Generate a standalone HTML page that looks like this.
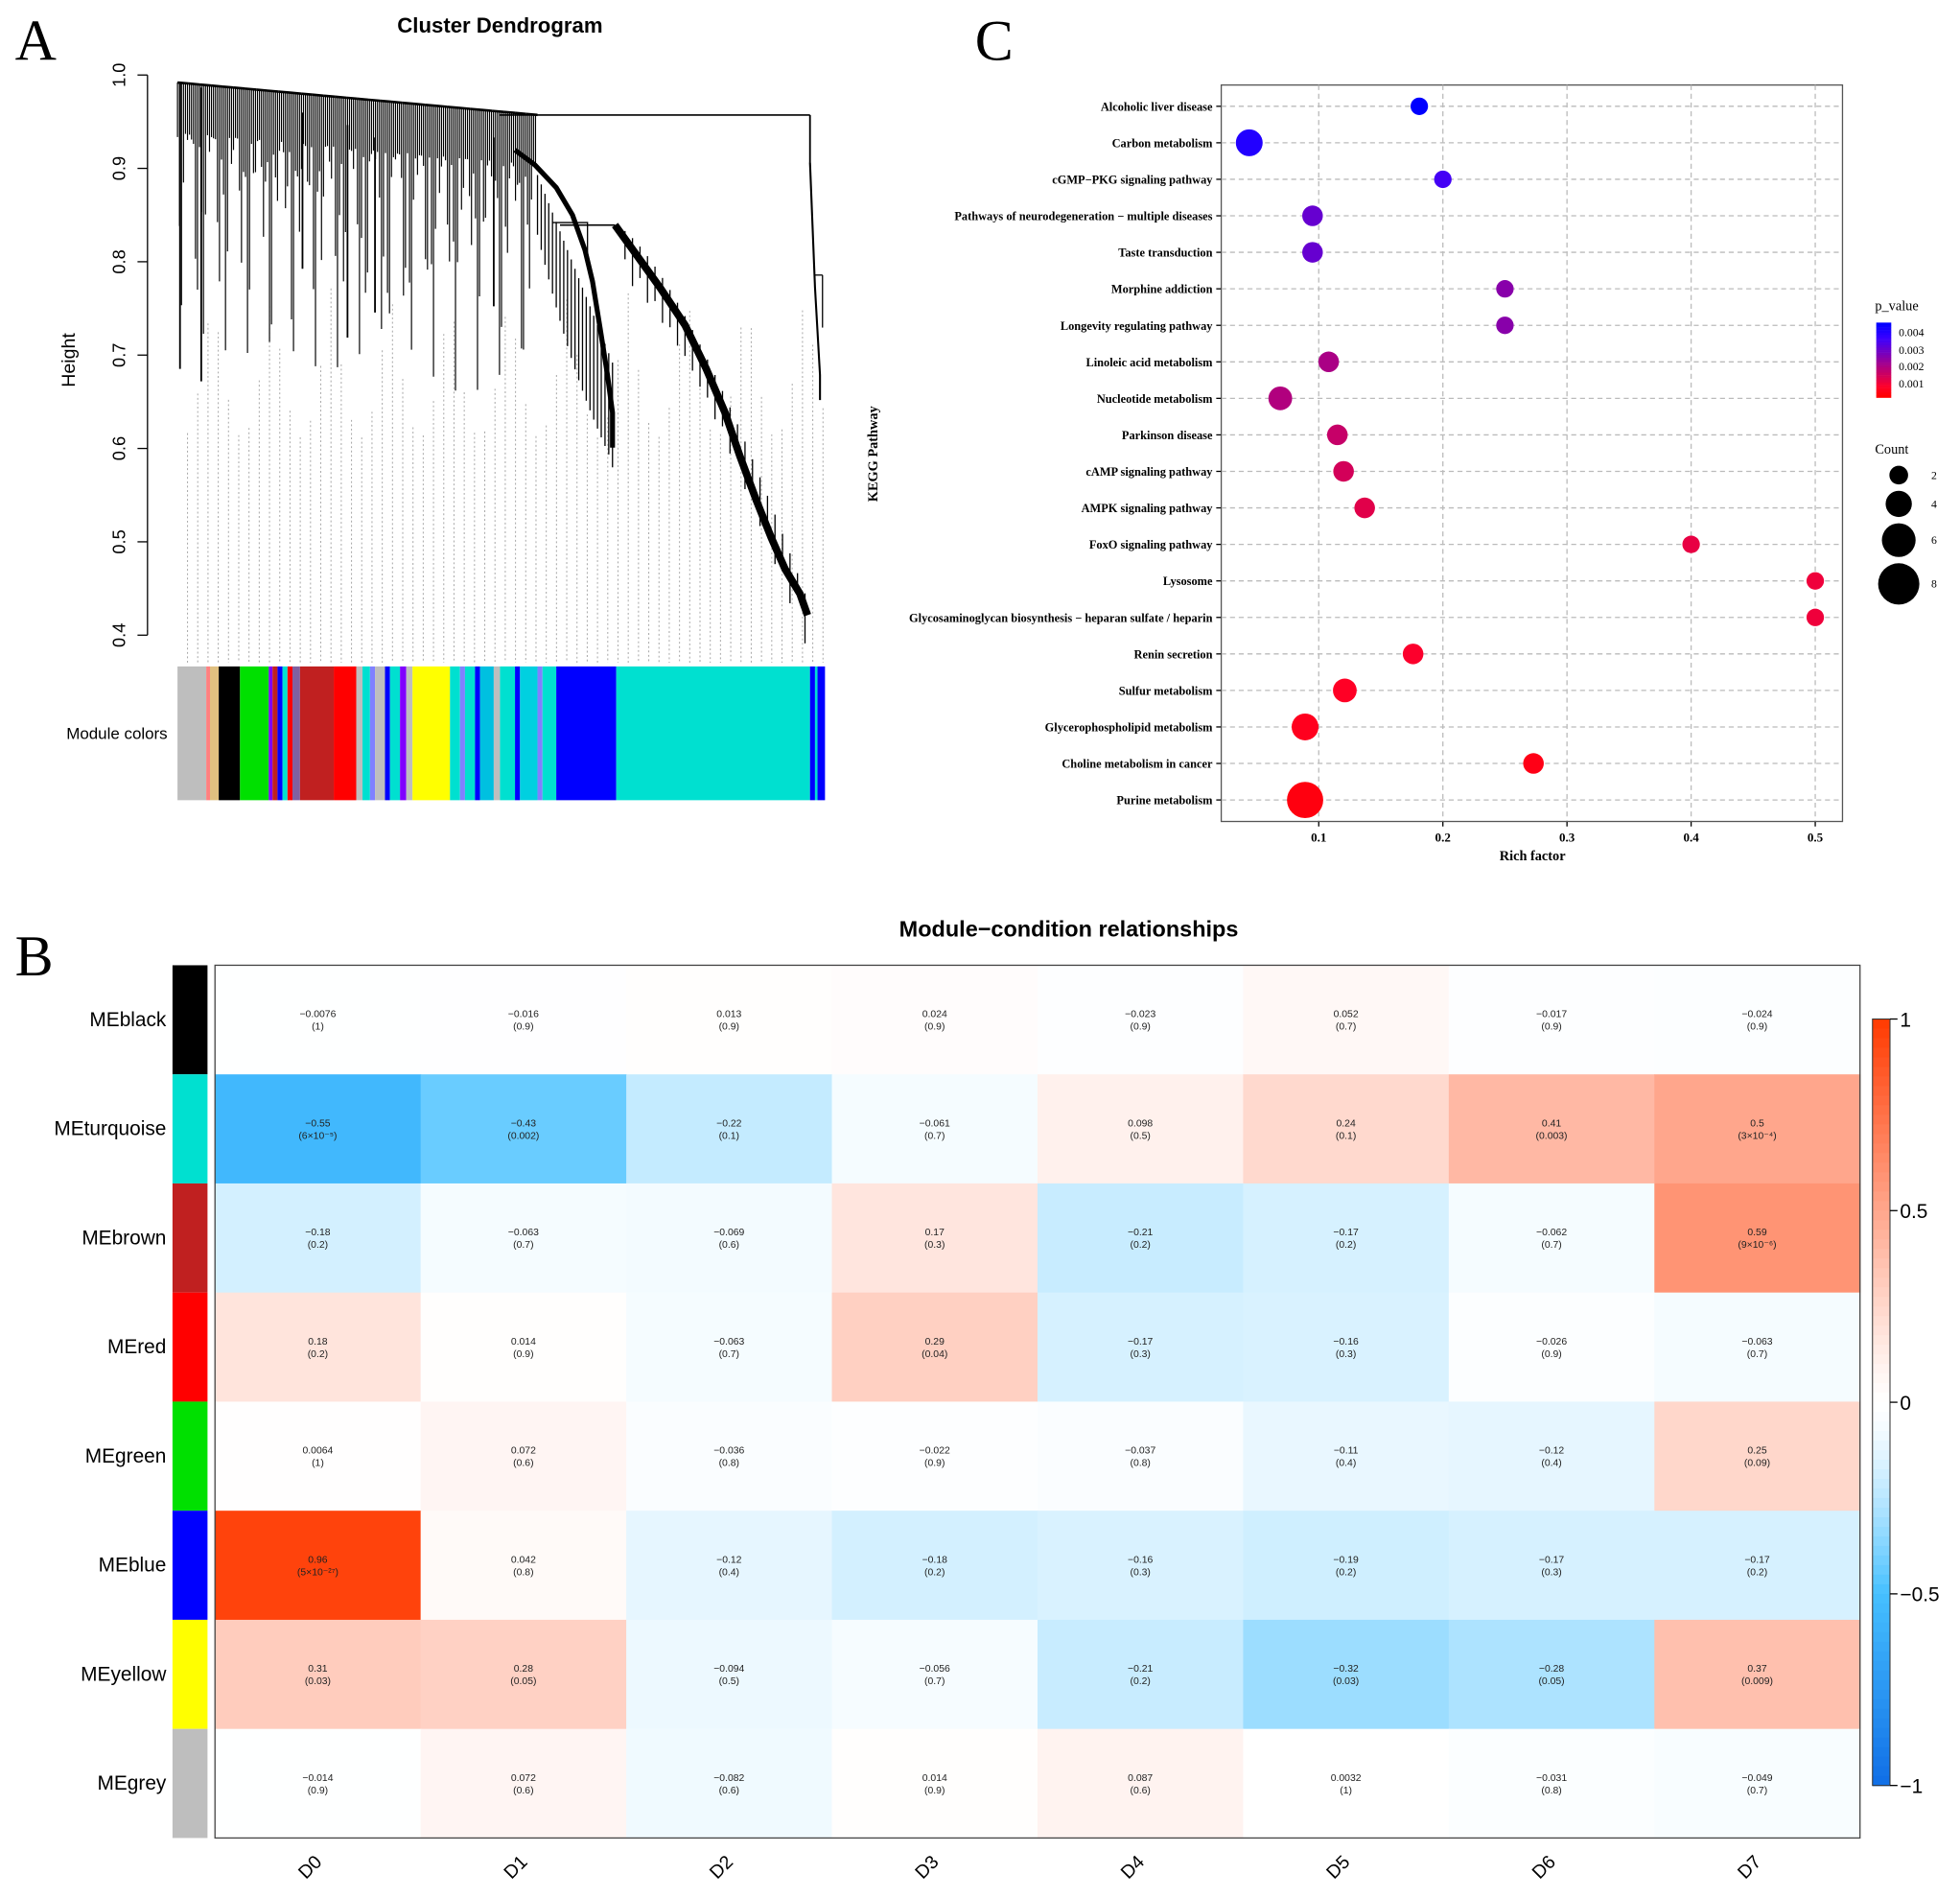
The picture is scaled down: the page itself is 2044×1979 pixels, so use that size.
<!DOCTYPE html>
<html><head><meta charset="utf-8"><style>
html,body{margin:0;padding:0;background:#fff;}
svg{display:block;}
text{font-family:"Liberation Sans",sans-serif;}
.serif{font-family:"Liberation Serif",serif;}
</style></head><body>
<svg id="fig" xmlns="http://www.w3.org/2000/svg" width="2044" height="1979" viewBox="0 0 1568 1518" preserveAspectRatio="none">
<rect width="1568" height="1518" fill="#fff"/>
<text class="serif" x="12" y="48" font-size="46">A</text>
<text class="serif" x="780" y="48" font-size="46">C</text>
<text class="serif" x="12" y="780" font-size="46">B</text>
<g id="dendro"></g>
<g id="kegg"></g>
<g id="heat"></g>
</svg>
<script>
const NS="http://www.w3.org/2000/svg";
function mk(parent,tag,attrs,txt){const e=document.createElementNS(NS,tag);for(const k in attrs)e.setAttribute(k,attrs[k]);if(txt!==undefined)e.textContent=txt;parent.appendChild(e);return e;}

/* ---------- Panel C data ---------- */
const pathways=["Alcoholic liver disease","Carbon metabolism","cGMP−PKG signaling pathway","Pathways of neurodegeneration − multiple diseases","Taste transduction","Morphine addiction","Longevity regulating pathway","Linoleic acid metabolism","Nucleotide metabolism","Parkinson disease","cAMP signaling pathway","AMPK signaling pathway","FoxO signaling pathway","Lysosome","Glycosaminoglycan biosynthesis − heparan sulfate / heparin","Renin secretion","Sulfur metabolism","Glycerophospholipid metabolism","Choline metabolism in cancer","Purine metabolism"];
const richFactor=[0.181,0.044,0.2,0.095,0.095,0.25,0.25,0.108,0.069,0.115,0.12,0.137,0.4,0.5,0.5,0.176,0.121,0.089,0.273,0.089];
const counts=[2,5,2,3,3,2,2,3,4,3,3,3,2,2,2,3,4,5,3,8];
const pValues=[0.0046,0.0041,0.0036,0.0031,0.0031,0.0026,0.0026,0.0021,0.002,0.0017,0.0015,0.0013,0.0012,0.0011,0.0011,0.0009,0.0008,0.0007,0.0006,0.0005];
const xTicks=[0.1,0.2,0.3,0.4,0.5];

/* ---------- Panel B data ---------- */
const modules=["MEblack","MEturquoise","MEbrown","MEred","MEgreen","MEblue","MEyellow","MEgrey"];
const moduleColors=["#000000","#00E0D0","#C02020","#FF0000","#00E000","#0000FF","#FFFF00","#BEBEBE"];
const conditions=["D0","D1","D2","D3","D4","D5","D6","D7"];
const corr=[
[-0.0076,-0.016,0.013,0.024,-0.023,0.052,-0.017,-0.024],
[-0.55,-0.43,-0.22,-0.061,0.098,0.24,0.41,0.5],
[-0.18,-0.063,-0.069,0.17,-0.21,-0.17,-0.062,0.59],
[0.18,0.014,-0.063,0.29,-0.17,-0.16,-0.026,-0.063],
[0.0064,0.072,-0.036,-0.022,-0.037,-0.11,-0.12,0.25],
[0.96,0.042,-0.12,-0.18,-0.16,-0.19,-0.17,-0.17],
[0.31,0.28,-0.094,-0.056,-0.21,-0.32,-0.28,0.37],
[-0.014,0.072,-0.082,0.014,0.087,0.0032,-0.031,-0.049]];
const pLabels=[
["(1)","(0.9)","(0.9)","(0.9)","(0.9)","(0.7)","(0.9)","(0.9)"],
["(6×10⁻⁵)","(0.002)","(0.1)","(0.7)","(0.5)","(0.1)","(0.003)","(3×10⁻⁴)"],
["(0.2)","(0.7)","(0.6)","(0.3)","(0.2)","(0.2)","(0.7)","(9×10⁻⁶)"],
["(0.2)","(0.9)","(0.7)","(0.04)","(0.3)","(0.3)","(0.9)","(0.7)"],
["(1)","(0.6)","(0.8)","(0.9)","(0.8)","(0.4)","(0.4)","(0.09)"],
["(5×10⁻²⁷)","(0.8)","(0.4)","(0.2)","(0.3)","(0.2)","(0.3)","(0.2)"],
["(0.03)","(0.05)","(0.5)","(0.7)","(0.2)","(0.03)","(0.05)","(0.009)"],
["(0.9)","(0.6)","(0.6)","(0.9)","(0.6)","(1)","(0.8)","(0.7)"]];
const cbTicks=[1,0.5,0,-0.5,-1];

/* ---------- Panel A ---------- */
const D=document.getElementById('dendro');
let t=mk(D,'text',{x:400,y:26,'font-size':17,'font-weight':'bold','text-anchor':'middle'},'Cluster Dendrogram');

const hY=h=>60+(1-h)*(448/0.6);
mk(D,'line',{x1:118,y1:hY(1),x2:118,y2:hY(0.4),stroke:'#000'});
[1.0,0.9,0.8,0.7,0.6,0.5,0.4].forEach(h=>{
 mk(D,'line',{x1:110,y1:hY(h),x2:118,y2:hY(h),stroke:'#000'});
 const l=mk(D,'text',{x:100,y:hY(h),'font-size':14,'text-anchor':'middle',transform:`rotate(-90 100 ${hY(h)})`},h.toFixed(1));
 
});
t=mk(D,'text',{x:60,y:288,'font-size':15,'text-anchor':'middle',transform:'rotate(-90 60 288)'},'Height');

// dashed leaf guides
for(let x=150;x<660;x+=8.2){mk(D,'line',{x1:x,y1:230+Math.abs(Math.sin(x*0.7))*120,x2:x,y2:530,stroke:'#aaa','stroke-width':0.8,'stroke-dasharray':'1.5,2'});}
// dense left cluster branches
for(let x=142;x<430;x+=1.6){
 const s=Math.abs(Math.sin(x*0.53)*Math.cos(x*0.17+1));
 const top=66+(x-142)*0.09;
 const e=top+40+190*s*s;
 mk(D,'line',{x1:x,y1:top,x2:x,y2:e,stroke:'#000','stroke-width':0.9});
}
for(let x=142;x<430;x+=9){mk(D,'line',{x1:x,y1:66+(x-142)*0.09,x2:x+9,y2:66+(x-142+9)*0.09,stroke:'#000','stroke-width':2});}
// long outliers
[[144,66,144,295],[161,70,161,305],[242,90,242,215],[278,100,278,270],[300,110,300,250],[395,110,395,245]].forEach(s=>mk(D,'line',{x1:s[0],y1:s[1],x2:s[2],y2:s[3],stroke:'#000','stroke-width':1.4}));
// top join lines
mk(D,'line',{x1:400,y1:92,x2:648,y2:92,stroke:'#000','stroke-width':1.2});
mk(D,'line',{x1:648,y1:92,x2:648,y2:130,stroke:'#000','stroke-width':1.4});
mk(D,'polyline',{points:'648,130 650,180 652,230 654,265 656,300 656,320',fill:'none',stroke:'#000','stroke-width':1.6});
mk(D,'line',{x1:652,y1:220,x2:658,y2:220,stroke:'#000','stroke-width':1});
mk(D,'line',{x1:658,y1:220,x2:658,y2:262,stroke:'#000','stroke-width':1});
// curve 1 cluster
mk(D,'polyline',{points:'412,120 428,132 445,150 458,172 468,200 474,225 480,262 486,300 490,330 490,358',fill:'none',stroke:'#000','stroke-width':4});
for(let x=430;x<492;x+=3){mk(D,'line',{x1:x,y1:140+(x-430)*2.5,x2:x,y2:180+(x-430)*3.2+20*Math.abs(Math.sin(x)),stroke:'#000','stroke-width':1});}
mk(D,'polyline',{points:'442,178 470,178 470,205',fill:'none',stroke:'#000','stroke-width':1});
// curve 2 cluster
mk(D,'polyline',{points:'448,180 492,180',fill:'none',stroke:'#000','stroke-width':1.2});
mk(D,'polyline',{points:'492,180 510,205 528,230 548,260 565,295 580,330 592,365 605,400 617,430 628,455 640,475 646,492',fill:'none',stroke:'#000','stroke-width':6});
for(let x=500;x<648;x+=6){const yy=180+Math.pow((x-492)/154,1.4)*300;mk(D,'line',{x1:x,y1:yy,x2:x,y2:yy+15+25*Math.abs(Math.sin(x*1.3)),stroke:'#000','stroke-width':1});}
// module color bar
const segs=[[142,165,'#BEBEBE'],[165,168,'#FF8080'],[168,175,'#E0C080'],[175,192,'#000'],[192,215,'#00E000'],[215,218,'#8000FF'],[218,222,'#C02020'],[222,226,'#0000FF'],[226,230,'#00E0D0'],[230,234,'#FF0000'],[234,240,'#8060A0'],[240,267,'#C02020'],[267,285,'#FF0000'],[285,290,'#BEBEBE'],[290,296,'#00E0D0'],[296,300,'#8080FF'],[300,308,'#BEBEBE'],[308,312,'#0000FF'],[312,320,'#00E0D0'],[320,325,'#8000FF'],[325,330,'#BEBEBE'],[330,360,'#FFFF00'],[360,368,'#00E0D0'],[368,372,'#8080FF'],[372,380,'#00E0D0'],[380,384,'#0000FF'],[384,395,'#00C0E0'],[395,400,'#BEBEBE'],[400,412,'#00E0D0'],[412,416,'#0000FF'],[416,430,'#00D0E0'],[430,434,'#8080FF'],[434,445,'#00E0D0'],[445,493,'#0000FF'],[493,648,'#00E0D0'],[648,652,'#0000FF'],[652,654,'#00E0D0'],[654,660,'#0000FF']];
segs.forEach(s=>mk(D,'rect',{x:s[0],y:533,width:s[1]-s[0],height:107,fill:s[2]}));
t=mk(D,'text',{x:134,y:591,'font-size':13,'text-anchor':'end'},'Module colors');


/* ---------- Panel C ---------- */
const K=document.getElementById('kegg');
const px0=977,px1=1474,py0=68,py1=657;
const xS=v=>1055+(v-0.1)*993;
const yS=i=>85+i*29.2;
mk(K,'rect',{x:px0,y:py0,width:px1-px0,height:py1-py0,fill:'#fff',stroke:'#555','stroke-width':1});
xTicks.forEach(v=>{mk(K,'line',{x1:xS(v),y1:py0,x2:xS(v),y2:py1,stroke:'#bbb','stroke-dasharray':'4,3'});
 mk(K,'line',{x1:xS(v),y1:py1,x2:xS(v),y2:py1+4,stroke:'#000'});
 const l=mk(K,'text',{x:xS(v),y:py1+16,'font-size':10,'font-weight':'bold','text-anchor':'middle',class:'serif'},String(v));
 });
function pcol(p){const u=Math.max(0,Math.min(1,(p-0.0003)/(0.0046-0.0003)));
 const r=Math.round(255*Math.min(1,(1-u)*1.15)), b=Math.round(255*Math.min(1,u*1.25));return `rgb(${r},0,${b})`;}
pathways.forEach((n,i)=>{
 mk(K,'line',{x1:px0,y1:yS(i),x2:px1,y2:yS(i),stroke:'#bbb','stroke-dasharray':'4,3'});
 mk(K,'line',{x1:px0-4,y1:yS(i),x2:px0,y2:yS(i),stroke:'#000'});
 const l=mk(K,'text',{x:px0-7,y:yS(i)+3.5,'font-size':9.5,'font-weight':'bold','text-anchor':'end',class:'serif'},n);
 
 const c=mk(K,'circle',{cx:xS(richFactor[i]),cy:yS(i),r:4.5+1.25*counts[i],fill:pcol(pValues[i])});
 
});
t=mk(K,'text',{x:1226,y:688,'font-size':11,'font-weight':'bold','text-anchor':'middle',class:'serif'},'Rich factor');

t=mk(K,'text',{x:702,y:363,'font-size':11,'font-weight':'bold','text-anchor':'middle',class:'serif',transform:'rotate(-90 702 363)'},'KEGG Pathway');

t=mk(K,'text',{x:1500,y:248,'font-size':11,class:'serif'},'p_value');

for(let k=0;k<30;k++){const p=0.0046-k*(0.0043/29);mk(K,'rect',{x:1501,y:258+k*2,width:12,height:2.2,fill:pcol(p)});}
[[0.004,266],[0.003,280],[0.002,293],[0.001,307]].forEach(a=>{const l=mk(K,'text',{x:1519,y:a[1]+3,'font-size':9,class:'serif'},String(a[0]));});
t=mk(K,'text',{x:1500,y:363,'font-size':11,class:'serif'},'Count');

[[2,380],[4,403],[6,432],[8,467]].forEach(a=>{mk(K,'circle',{cx:1519,cy:a[1],r:4.5+1.25*a[0]*1.2,fill:'#000'});
 const l=mk(K,'text',{x:1545,y:a[1]+3,'font-size':9,class:'serif'},String(a[0]));});

/* ---------- Panel B ---------- */
const H=document.getElementById('heat');
const hx0=172,hx1=1488,hy0=772,hy1=1470;
const cw=(hx1-hx0)/conditions.length, rh=(hy1-hy0)/modules.length;
function hcol(v){let r,g,b;
 if(v>=0){const u=Math.pow(v,1.15);r=255;g=255-u*(255-58);b=255-u*255;}
 else{const a=-v; if(a<=0.5){const u=Math.pow(a/0.5,1.4);r=255-u*(255-70);g=255-u*(255-192);b=255;}
  else{const u=(a-0.5)/0.5;r=70-u*54;g=192-u*82;b=255-u*25;}}
 return `rgb(${Math.round(r)},${Math.round(g)},${Math.round(b)})`;}
t=mk(H,'text',{x:855,y:749,'font-size':18,'font-weight':'bold','text-anchor':'middle'},'Module−condition relationships');

modules.forEach((m,i)=>{
 const y=hy0+i*rh;
 const sw=mk(H,'rect',{x:138,y:y,width:28,height:rh,fill:moduleColors[i]});
 
 const l=mk(H,'text',{x:133,y:y+rh/2+5,'font-size':16,'text-anchor':'end'},m);
 
 conditions.forEach((c,j)=>{
  const x=hx0+j*cw;
  const r=mk(H,'rect',{x:x,y:y,width:cw+0.5,height:rh+0.5,fill:hcol(corr[i][j])});
  
  mk(H,'text',{x:x+cw/2,y:y+rh/2-2,'font-size':8,'text-anchor':'middle',fill:'#222'},String(corr[i][j]).replace('-','−'));
  mk(H,'text',{x:x+cw/2,y:y+rh/2+8,'font-size':8,'text-anchor':'middle',fill:'#222'},pLabels[i][j]);
 });
});
mk(H,'rect',{x:hx0,y:hy0,width:hx1-hx0,height:hy1-hy0,fill:'none',stroke:'#444','stroke-width':1});
conditions.forEach((c,j)=>{const x=hx0+j*cw+cw/2+4;
 const l=mk(H,'text',{x:x,y:1490,'font-size':15,'text-anchor':'end',transform:`rotate(-45 ${x} 1490)`},c);
 });
const cb0=815,cb1=1428,cbS=v=>cb0+(1-v)/2*(cb1-cb0);
for(let k=0;k<80;k++){const v=1-k*2/80;mk(H,'rect',{x:1498,y:cbS(v),width:14,height:(cb1-cb0)/80+0.5,fill:hcol(v-1/80)});}
mk(H,'rect',{x:1498,y:cb0,width:14,height:cb1-cb0,fill:'none',stroke:'#333','stroke-width':0.8});
cbTicks.forEach(v=>{mk(H,'line',{x1:1512,y1:cbS(v),x2:1518,y2:cbS(v),stroke:'#000'});
 const l=mk(H,'text',{x:1520,y:cbS(v)+6,'font-size':16},String(v).replace('-','−'));
 });
</script>
</body></html>
